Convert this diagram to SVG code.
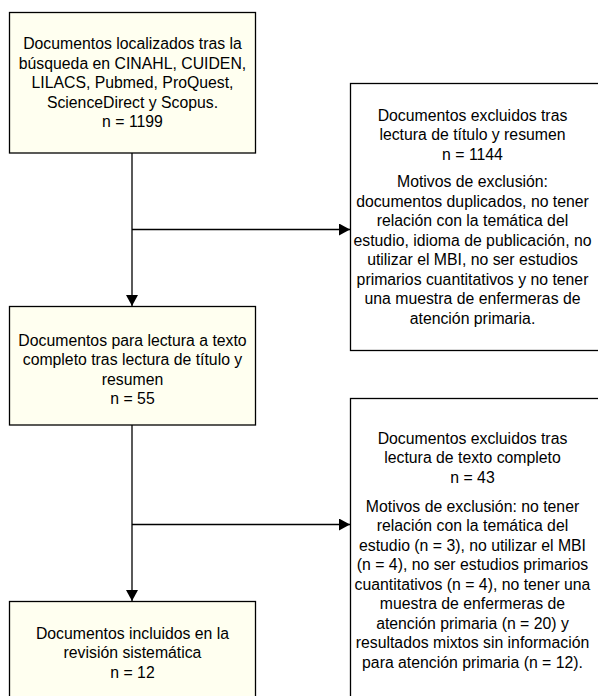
<svg xmlns="http://www.w3.org/2000/svg" width="598" height="696" viewBox="0 0 598 696">
<defs>
<style>
.box{fill:#fffff0;stroke:#000;stroke-width:1.3}
.wbox{fill:#fff;stroke:#000;stroke-width:1.3}
.t{font-family:"Liberation Sans",Arial,sans-serif;font-size:15.8px;fill:#000;text-anchor:middle}
.c{stroke:#000;stroke-width:1.3;fill:none}
</style>
<marker id="ah" markerUnits="userSpaceOnUse" markerWidth="12" markerHeight="12" refX="11" refY="6" orient="auto">
<path d="M0,0 L11,6 L0,12 Z" fill="#000"/>
</marker>
</defs>
<rect width="598" height="696" fill="#fff"/>
<g id="connectors">
<line class="c" x1="132" y1="153" x2="132" y2="306" marker-end="url(#ah)"/>
<line class="c" x1="132" y1="229.5" x2="350" y2="229.5" marker-end="url(#ah)"/>
<line class="c" x1="132" y1="425" x2="132" y2="601" marker-end="url(#ah)"/>
<line class="c" x1="132" y1="524.5" x2="350" y2="524.5" marker-end="url(#ah)"/>
</g>
<g id="n1">
<rect class="box" x="9.5" y="12.5" width="246" height="140.5"/>
<text class="t" x="132.5" y="49.3">Documentos localizados tras la</text>
<text class="t" x="132.5" y="68.8">búsqueda en CINAHL, CUIDEN,</text>
<text class="t" x="132.5" y="88.3">LILACS, Pubmed, ProQuest,</text>
<text class="t" x="132.5" y="107.8">ScienceDirect y Scopus.</text>
<text class="t" x="132.5" y="127.3">n = 1199</text>
</g>
<g id="n2">
<rect class="wbox" x="350.5" y="83.5" width="260" height="267"/>
<text class="t" x="472.5" y="120.8">Documentos excluidos tras</text>
<text class="t" x="472.5" y="140.3">lectura de título y resumen</text>
<text class="t" x="472.5" y="159.8">n = 1144</text>
<text class="t" x="472.5" y="187.3">Motivos de exclusión:</text>
<text class="t" x="472.5" y="206.8">documentos duplicados, no tener</text>
<text class="t" x="472.5" y="226.3">relación con la temática del</text>
<text class="t" x="472.5" y="245.8">estudio, idioma de publicación, no</text>
<text class="t" x="472.5" y="265.3">utilizar el MBI, no ser estudios</text>
<text class="t" x="472.5" y="284.8">primarios cuantitativos y no tener</text>
<text class="t" x="472.5" y="304.3">una muestra de enfermeras de</text>
<text class="t" x="472.5" y="323.8">atención primaria.</text>
</g>
<g id="n3">
<rect class="box" x="9.5" y="306.5" width="246" height="118.5"/>
<text class="t" x="132.5" y="345.8">Documentos para lectura a texto</text>
<text class="t" x="132.5" y="365.3">completo tras lectura de título y</text>
<text class="t" x="132.5" y="384.8">resumen</text>
<text class="t" x="132.5" y="404.3">n = 55</text>
</g>
<g id="n4">
<rect class="wbox" x="350.5" y="398.5" width="260" height="320"/>
<text class="t" x="472.5" y="443.8">Documentos excluidos tras</text>
<text class="t" x="472.5" y="463.3">lectura de texto completo</text>
<text class="t" x="472.5" y="482.8">n = 43</text>
<text class="t" x="472.5" y="511.8">Motivos de exclusión: no tener</text>
<text class="t" x="472.5" y="531.3">relación con la temática del</text>
<text class="t" x="472.5" y="550.8">estudio (n = 3), no utilizar el MBI</text>
<text class="t" x="472.5" y="570.3">(n = 4), no ser estudios primarios</text>
<text class="t" x="472.5" y="589.8">cuantitativos (n = 4), no tener una</text>
<text class="t" x="472.5" y="609.3">muestra de enfermeras de</text>
<text class="t" x="472.5" y="628.8">atención primaria (n = 20) y</text>
<text class="t" x="472.5" y="648.3">resultados mixtos sin información</text>
<text class="t" x="472.5" y="667.8">para atención primaria (n = 12).</text>
</g>
<g id="n5">
<rect class="box" x="9.5" y="601.5" width="246" height="120"/>
<text class="t" x="132.5" y="638.8">Documentos incluidos en la</text>
<text class="t" x="132.5" y="658.3">revisión sistemática</text>
<text class="t" x="132.5" y="677.8">n = 12</text>
</g>
</svg>
